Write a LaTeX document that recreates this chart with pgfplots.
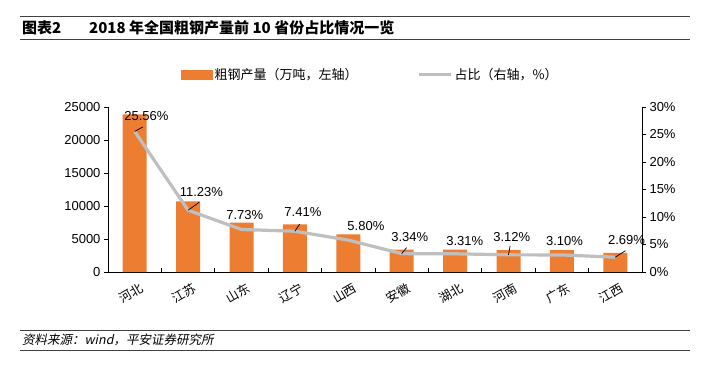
\documentclass[border=0pt]{standalone}
\usepackage{pgfplots}
\pgfplotsset{compat=1.18}
\usepackage{fontspec}
\setmainfont{Liberation Sans}
\newfontfamily\cjk{Noto Sans CJK SC}
\newfontfamily\cjkit[FakeSlant=0.2]{Noto Sans CJK SC}
\definecolor{barorange}{HTML}{ED7D31}
\definecolor{linegray}{HTML}{BFBFBF}
\begin{document}
\begin{tikzpicture}[x=1pt,y=1pt]
\useasboundingbox (0,0) rectangle (709,375);
\draw[black!75, line width=0.8pt] (20,359) -- (690,359);
\draw[black!75, line width=0.8pt] (20,336) -- (690,336);
\node[anchor=west, inner sep=0pt, font=\cjk\bfseries\fontsize{15}{16}\selectfont] at (22,347.5) {图表2};
\node[anchor=west, inner sep=0pt, font=\cjk\bfseries\fontsize{15}{16}\selectfont] at (89,347.5) {2018 年全国粗钢产量前 10 省份占比情况一览};
\draw[black!75, line width=0.8pt] (20,45) -- (690,45);
\draw[black!75, line width=0.8pt] (20,25) -- (690,25);
\node[anchor=west, inner sep=0pt, font=\cjkit\fontsize{12.5}{14}\selectfont] at (22,35) {资料来源：wind，平安证券研究所};

\begin{axis}[
  at={(108pt,103pt)}, anchor=south west, scale only axis,
  width=534pt, height=165pt,
  xmin=-0.5, xmax=9.5, ymin=0, ymax=25000,
  axis y line*=left, axis x line*=bottom,
  axis line style={black, line width=0.8pt},
  xtick={0,...,9},
  xticklabels={河北,江苏,山东,辽宁,山西,安徽,湖北,河南,广东,江西},
  xticklabel style={font=\cjk\fontsize{12.5}{13}\selectfont, rotate=30, anchor=north east, yshift=-4pt, xshift=4pt},
  major x tick style={draw=none},
  minor xtick={0.5,1.5,...,8.5},
  minor x tick style={yshift=4pt, black, line width=0.8pt},
  ytick={0,5000,...,25000},
  scaled y ticks=false,
  tick align=outside, major tick length=4pt, minor tick length=4pt,
  major y tick style={black, line width=0.8pt},
  /pgf/number format/assume math mode=true,
  yticklabel style={font=\fontsize{13}{13}\selectfont, /pgf/number format/set thousands separator={}},
  ybar, bar width=24pt,
  legend columns=2,
  legend style={at={(0.13,1.194)}, anchor=west, draw=none, fill=none,
    font=\cjk\fontsize{13}{14}\selectfont,
    /tikz/every even column/.append style={column sep=58pt}},
]
\addplot[fill=barorange, draw=none,
  legend image code/.code={\fill[barorange] (0pt,-5pt) rectangle (32pt,5pt);}]
  coordinates {(0,23900) (1,10700) (2,7500) (3,7200) (4,5700) (5,3400) (6,3400) (7,3300) (8,3300) (9,2900)};
\addlegendentry{粗钢产量（万吨，左轴）}
\addlegendimage{legend image code/.code={\draw[linegray, line width=3pt] (0pt,0pt) -- (32pt,0pt);}}
\addlegendentry{占比（右轴，\%）}
\end{axis}

\begin{axis}[
  at={(108pt,103pt)}, anchor=south west, scale only axis,
  width=534pt, height=165pt,
  xmin=-0.5, xmax=9.5, ymin=0, ymax=30,
  axis y line*=right, axis x line=none,
  axis line style={black, line width=0.8pt},
  ytick={0,5,...,30},
  tick align=outside, major tick length=4pt,
  major y tick style={black, line width=0.8pt},
  /pgf/number format/assume math mode=true,
  yticklabel={\pgfmathprintnumber{\tick}\%},
  yticklabel style={font=\fontsize{13}{13}\selectfont},
  clip=false,
]
\addplot[linegray, line width=3.2pt, line join=round]
  coordinates {(0,25.56) (1,11.23) (2,7.73) (3,7.41) (4,5.80) (5,3.34) (6,3.31) (7,3.12) (8,3.10) (9,2.69)};
\begin{scope}[every node/.style={font=\fontsize{13}{13}\selectfont, inner sep=0pt}]
\node at (axis cs:0.22,28.36) {25.56\%};
\node at (axis cs:1.25,14.5) {11.23\%};
\node at (axis cs:2.06,10.36) {7.73\%};
\node at (axis cs:3.15,10.9) {7.41\%};
\node at (axis cs:4.33,8.36) {5.80\%};
\node at (axis cs:5.15,6.36) {3.34\%};
\node at (axis cs:6.18,5.64) {3.31\%};
\node at (axis cs:7.06,6.36) {3.12\%};
\node at (axis cs:8.05,5.64) {3.10\%};
\node at (axis cs:9.21,5.82) {2.69\%};
\end{scope}
\begin{scope}[black, line width=0.7pt]
\draw (axis cs:0,25.56) -- (axis cs:0.15,26.36);
\draw (axis cs:1,11.23) -- (axis cs:1.21,12.7);
\draw (axis cs:3,7.41) -- (axis cs:3.09,8.73);
\draw (axis cs:5,3.34) -- (axis cs:5.09,4.42);
\draw (axis cs:7,3.12) -- (axis cs:7.03,4.73);
\draw (axis cs:9,2.69) -- (axis cs:9.19,3.87);
\end{scope}
\end{axis}
\end{tikzpicture}
\end{document}
